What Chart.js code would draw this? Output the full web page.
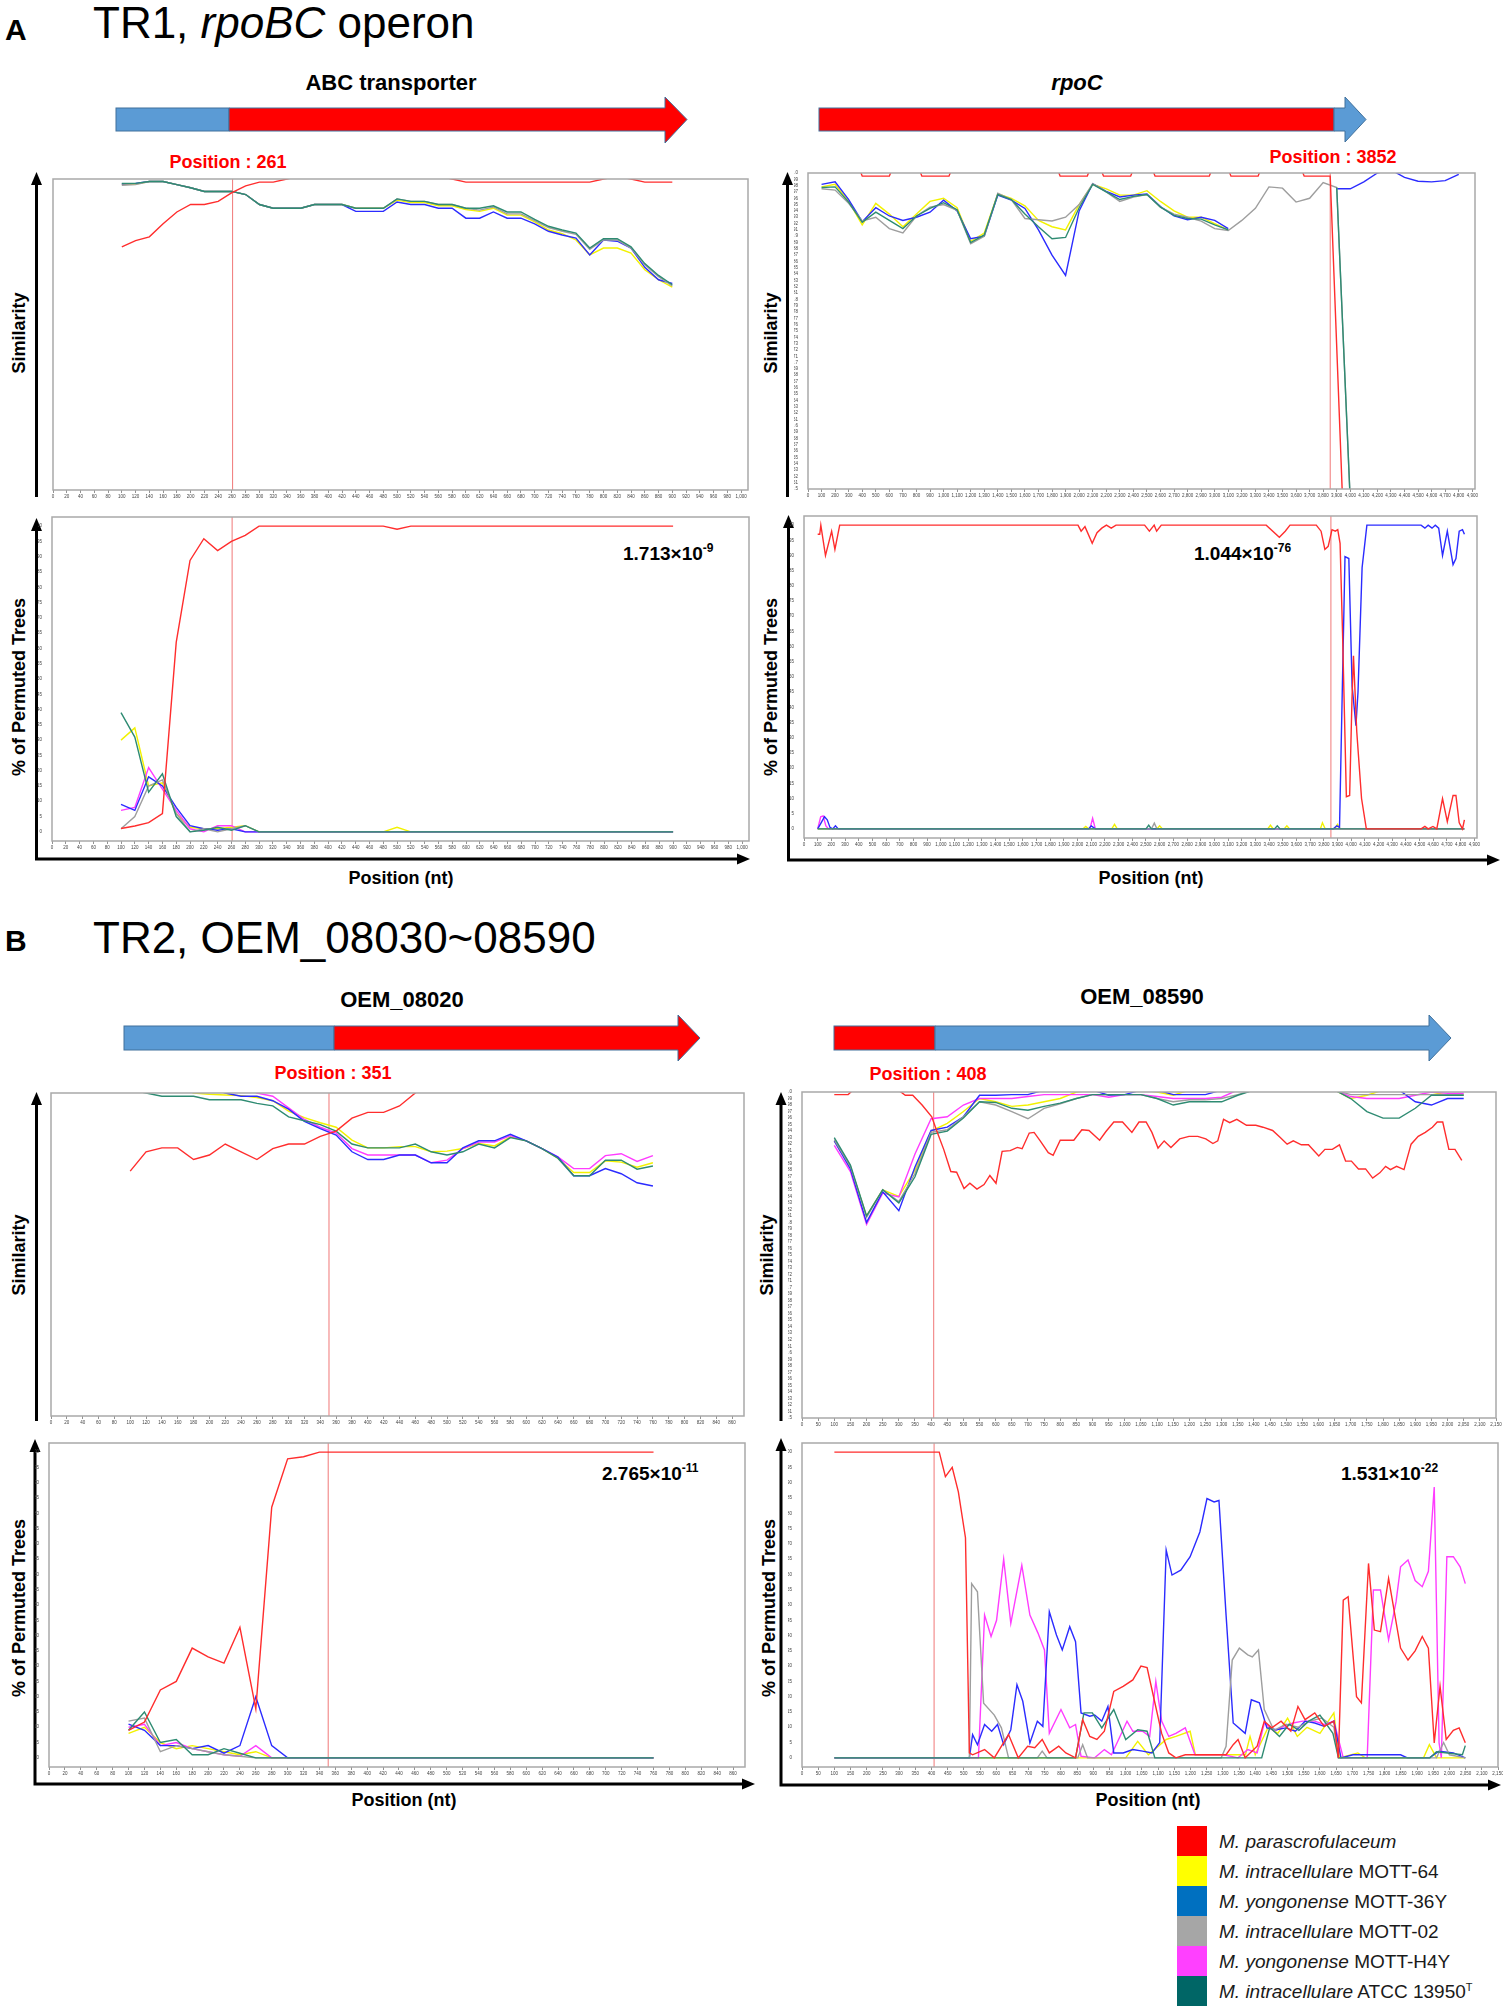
<!DOCTYPE html>
<html lang="en">
<head>
<meta charset="UTF-8">
<title>Recombination plots TR1 / TR2</title>
<script src="https://cdn.jsdelivr.net/npm/chart.js@4.4.0/dist/chart.umd.min.js"></script>
<style>
  body { margin: 0; background: #fff; }
  #page { position: relative; width: 1503px; height: 2013px; overflow: hidden; background: #fff;
          font-family: 'Liberation Sans', Arial, sans-serif; }
  #page canvas { position: absolute; }
  #overlay { position: absolute; left: 0; top: 0; font-family: 'Liberation Sans', Arial, sans-serif; }
</style>
</head>
<body>
<div id="page">
<svg id="overlay" width="1503" height="2013">
  <!-- panel headings -->
  <text x="5" y="40" font-size="30" font-weight="bold">A</text>
  <text x="93" y="38" font-size="44">TR1, <tspan font-style="italic">rpoBC</tspan> operon</text>
  <text x="5" y="951" font-size="30" font-weight="bold">B</text>
  <text x="93" y="953" font-size="44">TR2, OEM_08030~08590</text>

  <!-- gene names -->
  <text x="391" y="90" font-size="22" font-weight="bold" text-anchor="middle">ABC transporter</text>
  <text x="1077" y="90" font-size="22" font-weight="bold" font-style="italic" text-anchor="middle">rpoC</text>
  <text x="402" y="1007" font-size="22" font-weight="bold" text-anchor="middle">OEM_08020</text>
  <text x="1142" y="1004" font-size="22" font-weight="bold" text-anchor="middle">OEM_08590</text>

  <!-- gene arrows -->
  <g stroke="#41719c" stroke-width="1">
    <rect x="116" y="108" width="113" height="23" fill="#5b9bd5"/>
    <polygon points="229,108 665,108 665,97 687,119.5 665,143 665,131 229,131" fill="#ff0000"/>
    <rect x="819" y="108" width="515" height="23" fill="#ff0000"/>
    <polygon points="1334,108 1345,108 1345,97 1366,119.5 1345,142 1345,131 1334,131" fill="#5b9bd5"/>
    <rect x="124" y="1026" width="210" height="24" fill="#5b9bd5"/>
    <polygon points="334,1026 678,1026 678,1015 700,1038 678,1061 678,1050 334,1050" fill="#ff0000"/>
    <rect x="834" y="1026" width="101" height="24" fill="#ff0000"/>
    <polygon points="935,1026 1429,1026 1429,1015 1451,1038 1429,1061 1429,1050 935,1050" fill="#5b9bd5"/>
  </g>

  <!-- breakpoint labels -->
  <g fill="#ff0000" font-size="18" font-weight="bold" text-anchor="middle">
    <text x="228" y="168">Position : 261</text>
    <text x="1333" y="163">Position : 3852</text>
    <text x="333" y="1079">Position : 351</text>
    <text x="928" y="1080">Position : 408</text>
  </g>

  <!-- axis arrows -->
  <g stroke="#000" stroke-width="3" fill="none">
    <line x1="36.5" y1="497" x2="36.5" y2="182"/>
    <polyline points="36.5,528 36.5,859 740,859"/>
    <line x1="787.5" y1="497" x2="787.5" y2="182"/>
    <polyline points="788.5,525 788.5,860 1490,860"/>
    <line x1="36.5" y1="1421" x2="36.5" y2="1102"/>
    <polyline points="35,1449 35,1784 745,1784"/>
    <line x1="781" y1="1421" x2="781" y2="1102"/>
    <polyline points="781,1448 781,1785 1491,1785"/>
  </g>
  <g fill="#000">
    <polygon points="36.5,172 31,185 42,185"/>
    <polygon points="36.5,518 31,531 42,531"/>
    <polygon points="750,859 737,853.5 737,864.5"/>
    <polygon points="787.5,172 782,185 793,185"/>
    <polygon points="788.5,515 783,528 794,528"/>
    <polygon points="1500,860 1487,854.5 1487,865.5"/>
    <polygon points="36.5,1092 31,1105 42,1105"/>
    <polygon points="35,1439 29.5,1452 40.5,1452"/>
    <polygon points="755,1784 742,1778.5 742,1789.5"/>
    <polygon points="781,1092 775.5,1105 786.5,1105"/>
    <polygon points="781,1438 775.5,1451 786.5,1451"/>
    <polygon points="1501,1785 1488,1779.5 1488,1790.5"/>
  </g>

  <!-- axis titles -->
  <g font-size="18" font-weight="bold" text-anchor="middle" dominant-baseline="middle">
    <text transform="translate(20,333) rotate(-90)">Similarity</text>
    <text transform="translate(772,333) rotate(-90)">Similarity</text>
    <text transform="translate(20,1255) rotate(-90)">Similarity</text>
    <text transform="translate(768,1255) rotate(-90)">Similarity</text>
    <text transform="translate(20,687) rotate(-90)">% of Permuted Trees</text>
    <text transform="translate(772,687) rotate(-90)">% of Permuted Trees</text>
    <text transform="translate(20,1608) rotate(-90)">% of Permuted Trees</text>
    <text transform="translate(770,1608) rotate(-90)">% of Permuted Trees</text>
  </g>
  <g font-size="18" font-weight="bold" text-anchor="middle">
    <text x="401" y="884">Position (nt)</text>
    <text x="1151" y="884">Position (nt)</text>
    <text x="404" y="1806">Position (nt)</text>
    <text x="1148" y="1806">Position (nt)</text>
  </g>

  <!-- p-values -->
  <g font-size="19" font-weight="bold">
    <text x="623" y="560">1.713×10<tspan font-size="12" dy="-8">-9</tspan></text>
    <text x="1194" y="560">1.044×10<tspan font-size="12" dy="-8">-76</tspan></text>
    <text x="602" y="1480">2.765×10<tspan font-size="12" dy="-8">-11</tspan></text>
    <text x="1341" y="1480">1.531×10<tspan font-size="12" dy="-8">-22</tspan></text>
  </g>
</svg>
</div>
<script>
// ---- species / colours ----
const speciesItalic = ['M. parascrofulaceum', 'M. intracellulare', 'M. yongonense', 'M. intracellulare', 'M. yongonense', 'M. intracellulare'];
const strainNames = ['', 'MOTT-64', 'MOTT-36Y', 'MOTT-02', 'MOTT-H4Y', 'ATCC 13950'];
const legendColors = ['#ff0000', '#ffff00', '#0070c0', '#a6a6a6', '#ff40ff', '#006666'];
// index: 0 red, 1 yellow, 2 blue, 3 grey, 4 magenta, 5 teal
const lineColors = ['#ff2d2d', '#f2f200', '#2b2bff', '#9e9e9e', '#ff3cff', '#2e8b72'];
const drawOrder = [0, 5, 3, 2, 4, 1]; // first = drawn on top

// breakpoints (nt)
const breakpoints = { aLeft: 261, aRight: 3852, bLeft: 351, bRight: 408 };

// ---- A left: ABC transporter ----
const aLeftX = [100,120,140,160,180,200,220,240,260,280,300,320,340,360,380,400,420,440,460,480,500,520,540,560,580,600,620,640,660,680,700,720,740,760,780,800,820,840,860,880,900];
const aLeftSimRed = [0.891,0.901,0.907,0.928,0.947,0.959,0.959,0.964,0.978,0.989,0.995,0.995,1.0,1.005,1.005,1.005,1.005,1.005,1.005,1.005,1.005,1.005,1.005,1.005,1.0,0.995,0.995,0.995,0.995,0.995,0.995,0.995,0.995,0.995,0.995,1.0,1.004,1.0,0.995,0.995,0.995];
const aLeftSimYellow = [0.991,0.992,0.996,0.996,0.991,0.986,0.980,0.980,0.980,0.975,0.959,0.953,0.953,0.953,0.959,0.959,0.959,0.953,0.953,0.953,0.966,0.962,0.962,0.957,0.957,0.951,0.948,0.953,0.942,0.942,0.931,0.918,0.912,0.902,0.878,0.889,0.889,0.881,0.854,0.838,0.826];
const aLeftSimBlue = [0.992,0.993,0.996,0.996,0.991,0.986,0.980,0.980,0.980,0.975,0.959,0.953,0.953,0.953,0.959,0.959,0.959,0.948,0.948,0.948,0.963,0.959,0.959,0.953,0.953,0.937,0.937,0.947,0.937,0.937,0.928,0.916,0.910,0.905,0.878,0.902,0.900,0.889,0.858,0.838,0.832];
const aLeftSimGrey = [0.990,0.991,0.996,0.996,0.991,0.986,0.980,0.980,0.980,0.975,0.959,0.953,0.953,0.953,0.959,0.959,0.959,0.953,0.953,0.953,0.968,0.964,0.964,0.959,0.959,0.953,0.950,0.955,0.944,0.944,0.933,0.922,0.916,0.911,0.887,0.902,0.902,0.889,0.862,0.843,0.828];
const aLeftSimTeal = [0.993,0.993,0.996,0.996,0.991,0.986,0.980,0.980,0.980,0.975,0.959,0.953,0.953,0.953,0.959,0.959,0.959,0.953,0.953,0.953,0.968,0.964,0.964,0.959,0.959,0.953,0.953,0.957,0.947,0.947,0.935,0.924,0.918,0.913,0.889,0.904,0.904,0.891,0.864,0.845,0.830];

const aLeftPermX = [100,120,140,160,180,200,220,240,260,280,300,480,500,520,900];
const aLeftPermRed = [1.1,1.9,3,6,62,88.8,95.9,92,95,97,100,100,99,100,100];
const aLeftPermYellow = [30,34,15,16,6,1.5,1,1,1.5,2,0,0,1.5,0,0];
const aLeftPermBlue = [9,7,18,15,8,2,1,0.5,1,0,0,0,0,0,0];
const aLeftPermGrey = [1,5,15,17,6,0,1,0,1,2,0,0,0,0,0];
const aLeftPermMagenta = [7,8,21,14,7,1,0,2,2,0,0,0,0,0,0];
const aLeftPermTeal = [39,31,13,19,5,0,0.5,1.5,0.5,2,0,0,0,0,0];

// ---- A right: rpoC ----
const aRightX = [100,200,300,400,500,600,700,800,900,1000,1100,1200,1300,1400,1500,1600,1700,1800,1900,2000,2100,2200,2300,2400,2500,2600,2700,2800,2900,3000,3100,3200,3300,3400,3500,3600,3700,3800,3900,4000,4100,4200,4300,4400,4500,4600,4700,4800];
const aRightSimYellow = [0.978,0.982,0.955,0.918,0.952,0.935,0.915,0.935,0.955,0.960,0.945,0.892,0.905,0.967,0.960,0.948,0.925,0.915,0.910,0.950,0.982,0.975,0.965,0.965,0.972,0.955,0.940,0.930,0.930,0.920,0.910];
const aRightSimBlue = [0.982,0.986,0.958,0.923,0.945,0.932,0.925,0.930,0.938,0.957,0.940,0.896,0.900,0.965,0.957,0.944,0.910,0.870,0.838,0.940,0.983,0.971,0.962,0.965,0.967,0.947,0.932,0.926,0.930,0.925,0.912,null,null,null,null,null,null,null,0.975,0.975,0.986,1.0,1.005,0.993,0.987,0.986,0.988,0.998];
const aRightSimGrey = [0.975,0.973,0.952,0.924,0.930,0.912,0.905,0.932,0.946,0.950,0.941,0.888,0.900,0.968,0.958,0.928,0.926,0.924,0.930,0.950,0.983,0.970,0.955,0.962,0.966,0.946,0.935,0.930,0.924,0.912,0.909,0.925,0.944,0.978,0.976,0.954,0.960,0.985,0.977,0.48];
const aRightSimTeal = [0.977,0.978,0.954,0.922,0.938,0.925,0.912,0.932,0.944,0.953,0.942,0.890,0.902,0.966,0.958,0.935,0.915,0.896,0.898,0.945,0.982,0.970,0.958,0.963,0.966,0.946,0.933,0.928,0.927,0.918,0.910,null,null,null,null,null,null,null,0.977,0.48];
const aRightSimRedX = [100,380,400,600,620,820,840,1040,1060,1840,1860,2060,2080,2160,2180,2380,2400,2540,2560,2960,2980,3100,3120,3320,3340,3640,3660,3852,3940];
const aRightSimRed = [1.006,1.006,0.995,0.995,1.006,1.006,0.995,0.995,1.006,1.006,0.995,0.995,1.006,1.006,0.995,0.995,1.006,1.006,0.995,0.995,1.006,1.006,0.995,0.995,1.006,1.006,0.995,0.995,0.5];

const aRightPermRedX = [100,115,123,157,202,226,261,2003,2026,2054,2107,2142,2177,2211,2246,2281,2490,2525,2560,2578,2612,3379,3475,3518,3553,3745,3780,3808,3832,3860,3884,3902,3919,3937,3965,3989,4006,4017,4041,4076,4111,4511,4539,4563,4598,4626,4668,4703,4745,4766,4790,4814,4828];
const aRightPermRed = [97,97,100,90,98,92,100,100,98,99.5,94,97.5,99,100,99,100,100,98,100,98,100,100,96,98,100,100,98,92,93,98.5,98,98.5,94,64.6,10.6,11,42.7,57,32,10,0,0,0.8,0,0.8,0,10,2.4,11,11,2,0,3];
const aRightPermBlueX = [100,125,150,170,190,210,230,250,2080,2100,2130,3870,3895,3915,3955,3983,4007,4035,4050,4080,4115,4511,4539,4563,4591,4615,4640,4668,4703,4745,4766,4790,4814,4828];
const aRightPermBlue = [0,2,4,3,0.5,0,1,0,0,1,0,0,1,0.5,89.6,89,47,34,45,86,100,100,99,100,99,100,99,90,98,87,89,98,98.5,97];
const aRightPermMagentaX = [100,122,140,160,180,2090,2110,2130,4828];
const aRightPermMagenta = [0,4,4.3,1,0,0,3.5,0,0];
const aRightPermYellowX = [100,2040,2060,2080,2250,2270,2290,2580,2600,2620,3390,3410,3430,3510,3530,3550,3775,3790,3810,3880,3900,3920,4828];
const aRightPermYellow = [0,0,0.8,0,0,1.5,0,0,1,0,0,1.2,0,0,1,0,0,2,0,0,1.5,0,0];
const aRightPermGreyX = [100,2540,2561,2580,4828];
const aRightPermGrey = [0,0,1.9,0,0];
const aRightPermTealX = [100,2500,2520,2540,3440,3460,3480,4828];
const aRightPermTeal = [0,0,1.2,0,0,1,0,0];

// ---- B left: OEM_08020 ----
const bLeftX = [100,120,140,160,180,200,220,240,260,280,300,320,340,360,380,400,420,440,460,480,500,520,540,560,580,600,620,640,660,680,700,720,740,760];
const bLeftSimRed = [0.879,0.909,0.915,0.915,0.897,0.904,0.921,0.909,0.897,0.914,0.921,0.921,0.933,0.941,0.961,0.970,0.970,0.980,1.0,1.02];
const bLeftSimYellow = [1.01,1.01,1.01,1.01,1.0,0.998,0.997,0.996,0.993,0.988,0.972,0.962,0.954,0.947,0.927,0.915,0.915,0.917,0.917,0.909,0.910,0.914,0.922,0.918,0.932,0.926,0.914,0.899,0.877,0.877,0.895,0.893,0.885,0.892];
const bLeftSimBlue = [1.01,1.01,1.01,1.01,1.01,1.008,1.0,0.995,0.995,0.988,0.975,0.956,0.945,0.935,0.909,0.897,0.897,0.904,0.904,0.892,0.892,0.915,0.926,0.926,0.936,0.926,0.914,0.901,0.872,0.872,0.883,0.875,0.861,0.856];
const bLeftSimMagenta = [1.01,1.01,1.01,1.01,1.01,1.01,1.01,1.01,1.0,0.995,0.977,0.959,0.947,0.938,0.914,0.904,0.904,0.904,0.904,0.892,0.896,0.914,0.924,0.924,0.934,0.926,0.914,0.901,0.883,0.883,0.903,0.906,0.894,0.903];
const bLeftSimTeal = [1.005,1.0,0.995,0.995,0.995,0.9895,0.9895,0.9895,0.984,0.980,0.963,0.957,0.951,0.941,0.921,0.915,0.915,0.915,0.921,0.909,0.904,0.909,0.921,0.915,0.931,0.926,0.914,0.899,0.872,0.872,0.896,0.896,0.882,0.887];

const bLeftPermX = [100,120,140,160,180,200,220,240,260,280,300,320,340,760];
const bLeftPermRed = [9,11.7,22.2,25,35.9,33,31,42.7,16,82,97.8,98.5,100,100];
const bLeftPermYellow = [8,10,5,3,4,3,2,1,2,0,0,0,0,0];
const bLeftPermBlue = [11,9,4,4,3,4,1.5,4,20,4,0,0,0,0];
const bLeftPermGrey = [12,13,2,4,3,2,1,0.5,0,0,0,0,0,0];
const bLeftPermMagenta = [10,11,4,5,3,2,1,0.5,4,0,0,0,0,0];
const bLeftPermTeal = [9,15,5,6,1,1,3,1.5,0,0,0,0,0,0];

// ---- B right: OEM_08590 ----
const bRightX = [100,150,200,250,300,350,400,450,500,550,600,650,700,750,800,850,900,950,1000,1050,1100,1150,1200,1250,1300,1350,1400,1450,1500,1550,1600,1650,1700,1750,1800,1850,1900,1950,2000,2050];
const bRightSimYellow = [0.925,0.885,0.81,0.85,0.84,0.88,0.94,0.952,0.97,0.99,0.985,0.978,0.98,0.985,0.99,1.0,1.003,1.003,1.003,1.003,1.0,0.995,1.003,1.003,1.003,1.003,1.003,1.003,1.003,1.003,1.003,1.003,0.99,0.995,1.003,1.003,1.003,1.0,0.995,0.995];
const bRightSimBlue = [0.925,0.882,0.80,0.847,0.818,0.885,0.941,0.946,0.962,0.995,0.995,0.996,0.996,1.003,1.003,1.003,1.003,0.995,0.996,1.003,1.003,0.996,0.996,0.996,1.003,1.003,1.003,1.003,1.003,1.003,1.003,1.003,1.003,1.003,1.003,1.003,0.985,0.98,0.99,0.99];
const bRightSimGrey = [0.927,0.886,0.808,0.85,0.832,0.875,0.938,0.942,0.962,0.985,0.98,0.97,0.959,0.975,0.982,0.99,0.996,0.996,0.996,0.996,0.99,0.985,0.988,0.988,0.99,0.996,1.003,1.003,1.003,1.003,1.003,1.003,0.996,0.996,0.996,0.996,0.996,0.996,0.996,0.996];
const bRightSimMagenta = [0.918,0.878,0.797,0.845,0.839,0.905,0.959,0.962,0.98,0.99,0.99,0.99,0.993,0.996,0.996,0.996,0.996,0.992,0.996,0.996,0.993,0.99,0.99,0.99,0.992,1.003,1.003,1.003,1.003,1.003,1.003,1.003,0.993,0.99,0.99,0.99,0.995,1.0,0.998,0.998];
const bRightSimTeal = [0.93,0.888,0.81,0.85,0.83,0.87,0.935,0.94,0.96,0.985,0.984,0.975,0.972,0.978,0.983,0.99,0.996,0.996,0.996,0.996,0.99,0.98,0.985,0.985,0.985,0.995,1.003,1.003,1.003,1.003,1.003,1.003,0.99,0.97,0.96,0.96,0.975,0.995,0.995,0.995];
const bRightSimRedX = [100,143,158,298,320,343,372,402,417,439,461,479,502,520,542,564,582,601,620,645,667,682,704,719,738,763,778,800,822,842,867,889,922,941,966,993,1022,1044,1066,1084,1103,1122,1143,1170,1199,1226,1251,1273,1288,1306,1325,1347,1377,1406,1428,1458,1480,1503,1522,1547,1569,1601,1620,1643,1665,1684,1702,1724,1746,1768,1790,1808,1823,1842,1865,1887,1909,1931,1953,1968,1985,2004,2023,2044];
const bRightSimRed = [0.996,0.996,1.003,1.003,0.995,0.995,0.98,0.962,0.941,0.912,0.878,0.877,0.852,0.86,0.851,0.858,0.872,0.86,0.909,0.91,0.915,0.913,0.937,0.938,0.925,0.907,0.903,0.926,0.926,0.926,0.942,0.941,0.926,0.939,0.954,0.954,0.938,0.954,0.954,0.938,0.914,0.925,0.915,0.928,0.932,0.932,0.928,0.921,0.925,0.958,0.953,0.958,0.949,0.949,0.946,0.941,0.931,0.92,0.925,0.919,0.919,0.902,0.912,0.912,0.919,0.894,0.894,0.882,0.882,0.868,0.876,0.886,0.881,0.886,0.881,0.92,0.932,0.938,0.946,0.954,0.954,0.912,0.912,0.895];

const bRightPermRedX = [100,424,443,464,483,505,517,527,564,594,638,668,697,719,742,764,793,815,845,867,889,911,934,963,992,1022,1047,1066,1088,1111,1133,1155,1184,1229,1273,1310,1332,1347,1369,1406,1428,1451,1480,1510,1532,1554,1584,1613,1643,1657,1672,1687,1713,1728,1750,1768,1787,1812,1849,1872,1894,1916,1935,1953,1971,1990,2012,2030,2049];
const bRightPermRed = [100,100,92,95,87,72,1.6,1,2.7,0,7.6,0,3.8,3.3,6,1.6,3.8,1.6,0,12.5,7,6,8.7,21.7,23.4,25.5,30,29.5,19,8,1.6,0,1,1,1,1,4.3,6,0,3.8,12,9.8,12,8.7,16.8,12.5,14.7,10.3,12,0,51.6,52.7,20,18,63.6,41.8,41.3,58.7,35.9,32,35,39.7,35.9,4.9,23.4,6,9,9.8,4.9];
const bRightPermMagentaX = [100,527,545,564,584,601,623,645,679,704,729,749,764,800,827,845,862,904,934,956,978,1004,1022,1052,1074,1093,1111,1133,1155,1184,1214,1258,1302,1347,1377,1406,1428,1458,1487,1517,1547,1584,1613,1643,1672,1746,1765,1787,1812,1835,1849,1872,1894,1916,1935,1953,1968,1975,1992,2012,2033,2049];
const bRightPermMagenta = [0,0,0,46.7,39.7,45,65,44,63,46.7,40.8,35.3,8,15.8,9.8,10.9,0.5,0,2.7,1,6,12,8.7,8.7,7,25,12,7,8,9.8,1,1,1,0,2.7,1.6,11.4,8.7,10.3,11.4,12,12,10.9,12,0,0,54.9,54.9,38.6,51,62.5,64.7,58,56,61,88.6,4.9,0,65.8,65.8,62.5,57];
const bRightPermBlueX = [100,517,527,542,564,586,604,623,645,664,682,704,727,744,764,786,804,827,845,862,889,904,926,945,963,992,1022,1052,1081,1105,1125,1143,1170,1199,1229,1251,1273,1288,1310,1332,1369,1388,1413,1436,1465,1495,1524,1554,1584,1613,1643,1665,1702,1849,1870,1938,1968,2012,2049];
const bRightPermBlue = [0,0,7.6,4.3,10.9,8.7,10.9,4.3,9.2,23.9,18.5,4.9,12,10.3,47.8,40.2,35.3,42.9,38,14.7,13.6,14,12,16.8,1.6,1.6,2.7,2.2,1.6,5,68,59.8,61.4,65.8,73.9,84.8,83.7,84.2,46.7,11.4,8,19,18,9.8,9.2,9.8,8.7,12,11.4,10.3,12,0,1,1,0,0,2.2,1.6,0];
const bRightPermGreyX = [100,517,524,542,561,594,616,638,727,742,757,852,867,882,1295,1310,1329,1351,1377,1391,1410,1428,1458,1495,1532,1569,1606,1643,1657,1960,1982,2000,2049];
const bRightPermGrey = [0,0,57,54.3,17.9,14,9.8,0,0,2.2,0,0,4.3,0,0,3.8,32,35.9,33.7,33,35.3,15.8,9,11,10,12,13,10,0,0,5,1,0];
const bRightPermYellowX = [100,1000,1037,1070,1125,1155,1199,1215,1370,1384,1400,1440,1470,1500,1530,1560,1600,1643,1660,1717,1740,1920,1938,1960,2049];
const bRightPermYellow = [0,0,5.4,1,6,7,8.7,1,1,7,1,10,8,13,7,10,8,14.7,0,1.6,0,0,4.3,0,0];
const bRightPermTealX = [100,845,871,897,926,963,1000,1037,1066,1090,1420,1445,1475,1505,1535,1565,1600,1640,1657,1940,1960,2040,2049];
const bRightPermTeal = [0,0,14.7,14.7,9.8,15.8,6,9.2,8.7,0,0,10,7,11,9,12,14,8,0,0,2,1,4];

// ---- chart building ----
const page = document.getElementById('page');
const FONT = "'Liberation Sans', Arial, sans-serif";
const Y_W = 14, X_H = 12, PAD_T = 5, PAD_R = 9;

const framePlugin = {
  id: 'frame',
  beforeDatasetsDraw(chart, args, opts) {
    const { ctx, chartArea: a, scales } = chart;
    if (opts.breakpoint == null) return;
    const x = scales.x.getPixelForValue(opts.breakpoint);
    ctx.save();
    ctx.strokeStyle = '#f07878';
    ctx.lineWidth = 1;
    ctx.beginPath();
    ctx.moveTo(x, a.top);
    ctx.lineTo(x, a.bottom);
    ctx.stroke();
    ctx.restore();
  },
  afterDatasetsDraw(chart) {
    const { ctx, chartArea: a } = chart;
    ctx.save();
    ctx.strokeStyle = '#a9a9a9';
    ctx.lineWidth = 1.5;
    ctx.strokeRect(a.left, a.top, a.right - a.left, a.bottom - a.top);
    ctx.restore();
  }
};

function addChart(spec) {
  const [l, t, w, h] = spec.box;
  const cw = w + Y_W + PAD_R, ch = h + X_H + PAD_T;
  const canvas = document.createElement('canvas');
  canvas.width = cw;
  canvas.height = ch;
  canvas.style.left = (l - Y_W) + 'px';
  canvas.style.top = (t - PAD_T) + 'px';
  canvas.style.width = cw + 'px';
  canvas.style.height = ch + 'px';
  page.appendChild(canvas);

  const sim = spec.kind === 'sim';
  const datasets = drawOrder
    .map(k => spec.series.find(s => s.k === k))
    .filter(Boolean)
    .map(s => ({
      data: s.ys.map((y, i) => ({ x: s.xs[i], y: y })),
      borderColor: lineColors[s.k],
      borderWidth: 1.4,
      pointRadius: 0,
      tension: 0,
      spanGaps: false,
      clip: 0
    }));

  new Chart(canvas, {
    type: 'line',
    data: { datasets },
    options: {
      responsive: false,
      animation: false,
      events: [],
      layout: { padding: { top: PAD_T, right: PAD_R, left: 0, bottom: 0 } },
      plugins: {
        legend: { display: false },
        tooltip: { enabled: false },
        frame: { breakpoint: spec.breakpoint }
      },
      scales: {
        x: {
          type: 'linear', min: 0, max: spec.xMax,
          afterFit: sc => { sc.height = X_H; },
          border: { display: false },
          grid: { drawOnChartArea: false, drawTicks: true, tickLength: 3, color: '#777', lineWidth: 0.8 },
          ticks: {
            stepSize: spec.xStep, includeBounds: false, autoSkip: false, maxRotation: 0, minRotation: 0,
            padding: 1, color: '#444', font: { size: 4.5, family: FONT },
            callback: v => v.toLocaleString('en-US')
          }
        },
        y: {
          min: sim ? 0.5 : -3, max: sim ? 1.0 : 103,
          afterFit: sc => { sc.width = Y_W; },
          border: { display: false },
          grid: { display: false },
          ticks: {
            display: spec.yLabels,
            stepSize: sim ? 0.01 : 5, includeBounds: false, autoSkip: false,
            padding: 2, color: '#444', font: { size: 4.5, family: FONT },
            callback: v => sim ? (v === 1 ? '1.0' : String(Math.round(v * 100) / 100)) : String(v)
          }
        }
      }
    },
    plugins: [framePlugin]
  });
}

const S = (k, xs, ys) => ({ k, xs, ys });

addChart({ box: [53, 179, 695, 311], kind: 'sim', xMax: 1010, xStep: 20, yLabels: false, breakpoint: breakpoints.aLeft,
  series: [S(0, aLeftX, aLeftSimRed), S(1, aLeftX, aLeftSimYellow), S(2, aLeftX, aLeftSimBlue), S(3, aLeftX, aLeftSimGrey), S(5, aLeftX, aLeftSimTeal)] });
addChart({ box: [52, 517, 697, 324], kind: 'perm', xMax: 1010, xStep: 20, yLabels: true, breakpoint: breakpoints.aLeft,
  series: [S(0, aLeftPermX, aLeftPermRed), S(1, aLeftPermX, aLeftPermYellow), S(2, aLeftPermX, aLeftPermBlue), S(3, aLeftPermX, aLeftPermGrey), S(4, aLeftPermX, aLeftPermMagenta), S(5, aLeftPermX, aLeftPermTeal)] });
addChart({ box: [808, 173, 667, 316], kind: 'sim', xMax: 4920, xStep: 100, yLabels: true, breakpoint: breakpoints.aRight,
  series: [S(0, aRightSimRedX, aRightSimRed), S(1, aRightX, aRightSimYellow), S(2, aRightX, aRightSimBlue), S(3, aRightX, aRightSimGrey), S(5, aRightX, aRightSimTeal)] });
addChart({ box: [804, 516, 673, 322], kind: 'perm', xMax: 4920, xStep: 100, yLabels: true, breakpoint: breakpoints.aRight,
  series: [S(0, aRightPermRedX, aRightPermRed), S(1, aRightPermYellowX, aRightPermYellow), S(2, aRightPermBlueX, aRightPermBlue), S(3, aRightPermGreyX, aRightPermGrey), S(4, aRightPermMagentaX, aRightPermMagenta), S(5, aRightPermTealX, aRightPermTeal)] });
addChart({ box: [51, 1093, 693, 323], kind: 'sim', xMax: 875, xStep: 20, yLabels: false, breakpoint: breakpoints.bLeft,
  series: [S(0, bLeftX, bLeftSimRed), S(1, bLeftX, bLeftSimYellow), S(2, bLeftX, bLeftSimBlue), S(4, bLeftX, bLeftSimMagenta), S(5, bLeftX, bLeftSimTeal)] });
addChart({ box: [49, 1443, 696, 324], kind: 'perm', xMax: 875, xStep: 20, yLabels: true, breakpoint: breakpoints.bLeft,
  series: [S(0, bLeftPermX, bLeftPermRed), S(1, bLeftPermX, bLeftPermYellow), S(2, bLeftPermX, bLeftPermBlue), S(3, bLeftPermX, bLeftPermGrey), S(4, bLeftPermX, bLeftPermMagenta), S(5, bLeftPermX, bLeftPermTeal)] });
addChart({ box: [802, 1092, 694, 326], kind: 'sim', xMax: 2150, xStep: 50, yLabels: true, breakpoint: breakpoints.bRight,
  series: [S(0, bRightSimRedX, bRightSimRed), S(1, bRightX, bRightSimYellow), S(2, bRightX, bRightSimBlue), S(3, bRightX, bRightSimGrey), S(4, bRightX, bRightSimMagenta), S(5, bRightX, bRightSimTeal)] });
addChart({ box: [802, 1443, 696, 324], kind: 'perm', xMax: 2150, xStep: 50, yLabels: true, breakpoint: breakpoints.bRight,
  series: [S(0, bRightPermRedX, bRightPermRed), S(1, bRightPermYellowX, bRightPermYellow), S(2, bRightPermBlueX, bRightPermBlue), S(3, bRightPermGreyX, bRightPermGrey), S(4, bRightPermMagentaX, bRightPermMagenta), S(5, bRightPermTealX, bRightPermTeal)] });

// ---- legend ----
const SVGNS = 'http://www.w3.org/2000/svg';
const overlay = document.getElementById('overlay');
speciesItalic.forEach((name, i) => {
  const y = 1826 + i * 30;
  const r = document.createElementNS(SVGNS, 'rect');
  r.setAttribute('x', 1177);
  r.setAttribute('y', y);
  r.setAttribute('width', 30);
  r.setAttribute('height', 30);
  r.setAttribute('fill', legendColors[i]);
  overlay.appendChild(r);
  const t = document.createElementNS(SVGNS, 'text');
  t.setAttribute('x', 1219);
  t.setAttribute('y', y + 22);
  t.setAttribute('font-size', 19);
  t.setAttribute('fill', '#1a1a1a');
  t.innerHTML = '<tspan font-style="italic">' + name + '</tspan>' +
    (strainNames[i] ? ' ' + strainNames[i] : '') +
    (i === 5 ? '<tspan font-size="11" dy="-7">T</tspan>' : '');
  overlay.appendChild(t);
});
</script>
</body>
</html>
